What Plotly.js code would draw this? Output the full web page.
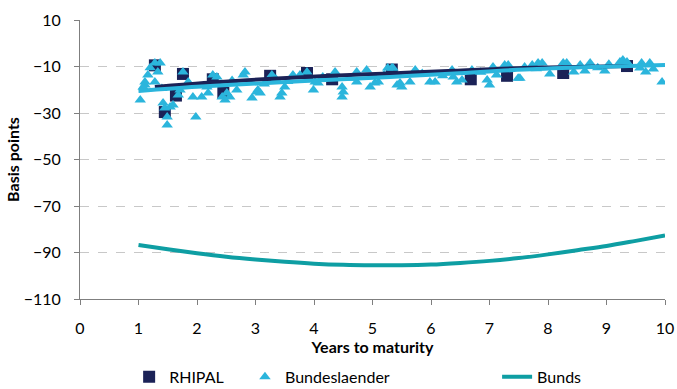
<!DOCTYPE html>
<html>
<head>
<meta charset="utf-8">
<script src="https://cdn.plot.ly/plotly-3.0.1.min.js"></script>
<style>html,body{margin:0;padding:0;background:#fff;}#chart{width:677px;height:389px;}</style>
</head>
<body>
<div id="chart"></div>
<script>
// RHIPAL bonds (years to maturity, spread in bp)
const rhipalX = [1.28, 1.45, 1.64, 1.76, 2.27, 2.45, 3.25, 3.88, 4.31, 5.33, 6.68, 7.30, 8.26, 9.35];
const rhipalY = [-9.5, -29.6, -22.5, -13.2, -15.5, -21.4, -14.0, -12.8, -15.5, -11.3, -15.5, -14.0, -12.8, -9.8];

// Bundeslaender bonds
const laenderX = [1.03, 1.11, 1.16, 1.28, 1.37, 1.33, 1.28, 1.11, 1.08, 1.42, 1.45, 1.49, 1.49, 1.54, 1.59,
  1.68, 1.71, 1.76, 1.85, 1.93, 1.98, 2.08, 2.17, 2.27, 2.34, 2.19, 2.43, 2.48, 2.51, 2.56,
  2.68, 2.82, 2.79, 2.94, 3.02, 3.04, 3.28, 3.08, 3.45, 3.50, 3.42, 3.64, 3.76, 3.88, 3.99,
  4.07, 4.02, 4.36, 4.48, 4.48, 4.50, 4.73, 4.73, 4.96, 5.04, 5.10, 5.26, 5.33, 5.42, 4.90,
  5.35, 5.47, 5.50, 5.73, 5.64, 5.98, 6.07, 6.36, 6.38, 6.44, 6.53, 6.70, 6.96, 7.00, 7.06,
  7.12, 7.26, 7.32, 7.49, 7.60, 7.52, 7.73, 7.83, 7.90, 8.03, 8.26, 8.32, 8.44, 8.55, 8.63,
  8.72, 8.97, 9.04, 9.23, 9.28, 9.35, 9.60, 9.57, 9.67, 9.74, 9.80, 9.95, 1.20, 1.40, 2.60,
  3.15, 3.35, 3.55, 4.15, 4.60, 5.20, 5.85, 6.20, 6.85, 7.80, 8.85];
const laenderY = [-24.4, -18.0, -13.7, -8.5, -8.5, -12.4, -16.7, -16.7, -18.8, -25.7, -27.8, -31.7, -35.2, -27.4, -26.6,
  -22.3, -20.1, -12.4, -16.7, -23.1, -31.7, -23.1, -18.8, -13.7, -14.5, -21.4, -23.1, -24.4, -21.4, -23.1,
  -20.1, -12.4, -13.7, -23.5, -21.0, -20.1, -13.7, -21.4, -21.4, -18.8, -23.1, -13.7, -13.7, -12.4, -20.1,
  -17.1, -16.7, -12.4, -18.8, -23.1, -21.0, -12.4, -16.7, -18.8, -17.1, -16.7, -10.6, -10.6, -18.0, -11.5,
  -10.6, -17.1, -18.8, -11.5, -16.7, -16.7, -16.7, -11.5, -14.5, -16.7, -15.8, -11.5, -15.8, -18.0, -10.2,
  -13.7, -9.4, -9.4, -15.0, -10.2, -15.0, -9.4, -8.5, -8.5, -13.2, -8.5, -8.5, -12.4, -9.4, -11.9,
  -8.5, -11.9, -9.0, -8.1, -7.2, -8.1, -8.5, -10.6, -12.4, -8.5, -11.1, -16.7, -10.5, -19.5, -16.0,
  -17.5, -15.5, -16.5, -14.5, -15.0, -13.5, -13.0, -14.0, -12.5, -11.0, -10.5];

// Trend lines
const rhipalTrendX = [1.28, 2.2, 3.2, 4.2, 5.3, 6.4, 7.6, 8.5, 9.4];
const rhipalTrendY = [-18.8, -17.0, -15.4, -14.1, -13.0, -11.8, -10.6, -10.2, -9.8];
const laenderTrendX = [1.0, 2.0, 3.2, 4.2, 5.3, 6.4, 7.6, 8.8, 10.0];
const laenderTrendY = [-20.5, -18.7, -17.1, -15.8, -14.5, -13.0, -11.3, -10.2, -9.4];

// Bunds curve
const bundsX = [1, 1.5, 2, 2.5, 3, 3.5, 4, 4.5, 5, 5.5, 6, 6.5, 7, 7.5, 8, 8.5, 9, 9.5, 10];
const bundsY = [-86.8, -88.6, -90.3, -91.8, -93.0, -94.0, -94.8, -95.3, -95.5, -95.5, -95.2, -94.5, -93.6, -92.4, -90.8, -89.0, -87.2, -85.0, -82.7];

const navy = '#1b2257';
const lightBlue = '#2bb5dc';
const teal = '#0e9ea3';
const fontFam = 'Lato, "Open Sans", sans-serif';
const legFont = {family: fontFam, size: 16, color: '#000'};

const traces = [
  {x: rhipalX, y: rhipalY, type: 'scatter', mode: 'markers', name: 'RHIPAL', legend: 'legend',
   marker: {symbol: 'square', size: 12, color: navy}},
  {x: laenderX, y: laenderY, type: 'scatter', mode: 'markers', name: 'Bundeslaender', legend: 'legend2',
   marker: {symbol: 'triangle-up', size: 10, color: lightBlue}},
  {x: bundsX, y: bundsY, type: 'scatter', mode: 'lines', name: 'Bunds', legend: 'legend3',
   line: {color: teal, width: 4, shape: 'spline'}},
  {x: rhipalTrendX, y: rhipalTrendY, type: 'scatter', mode: 'lines', showlegend: false,
   line: {color: navy, width: 4, shape: 'spline'}, hoverinfo: 'skip'},
  {x: laenderTrendX, y: laenderTrendY, type: 'scatter', mode: 'lines', showlegend: false,
   line: {color: lightBlue, width: 4, shape: 'spline'}, hoverinfo: 'skip'}
];

const legBase = {orientation: 'h', yanchor: 'top', y: -0.218, xanchor: 'left', font: legFont,
                 itemwidth: 30, bgcolor: 'rgba(0,0,0,0)'};

const layout = {
  width: 677, height: 389,
  margin: {l: 80, r: 12, t: 20, b: 90, autoexpand: false},
  paper_bgcolor: '#fff', plot_bgcolor: '#fff',
  font: {family: fontFam, size: 16, color: '#000'},
  showlegend: true,
  legend: Object.assign({}, legBase, {x: 0.084}),
  legend2: Object.assign({}, legBase, {x: 0.282}),
  legend3: Object.assign({}, legBase, {x: 0.713}),
  xaxis: {range: [0, 10], dtick: 1, tick0: 0, showgrid: false, zeroline: false,
          showline: true, linecolor: '#7f7f7f', linewidth: 1,
          ticks: 'outside', ticklen: 5, tickcolor: '#7f7f7f', ticklabelstandoff: 10,
          tickfont: {family: fontFam, size: 16, color: '#000'},
          title: {text: '<b>Years to maturity</b>', font: {family: fontFam, size: 16, color: '#000'}, standoff: 4}},
  yaxis: {range: [-110, 10], dtick: 20, tick0: -110, showgrid: true, gridcolor: '#c8c8c8', griddash: 'dash', gridwidth: 1,
          zeroline: false, showline: true, linecolor: '#7f7f7f', linewidth: 1,
          ticks: 'outside', ticklen: 5, tickcolor: '#7f7f7f', ticklabelstandoff: 10,
          tickfont: {family: fontFam, size: 16, color: '#000'},
          title: {text: '<b>Basis points</b>', font: {family: fontFam, size: 16, color: '#000'}, standoff: 0}}
};

Plotly.newPlot('chart', traces, layout, {displayModeBar: false, staticPlot: true});
</script>
</body>
</html>
